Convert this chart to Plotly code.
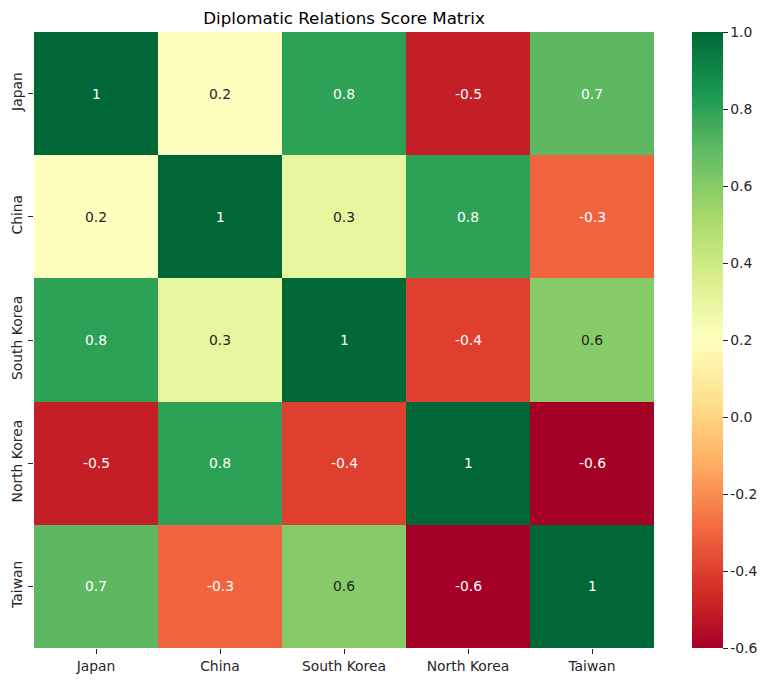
import plotly.graph_objects as go

countries = ["Japan", "China", "South Korea", "North Korea", "Taiwan"]
scores = [
    [1.0, 0.2, 0.8, -0.5, 0.7],
    [0.2, 1.0, 0.3, 0.8, -0.3],
    [0.8, 0.3, 1.0, -0.4, 0.6],
    [-0.5, 0.8, -0.4, 1.0, -0.6],
    [0.7, -0.3, 0.6, -0.6, 1.0],
]
vmin, vmax = -0.6, 1.0
cb_ticks = [-0.6, -0.4, -0.2, 0.0, 0.2, 0.4, 0.6, 0.8, 1.0]

rdylgn = ["#a50026", "#d73027", "#f46d43", "#fdae61", "#fee08b", "#ffffbf",
          "#d9ef8b", "#a6d96a", "#66bd63", "#1a9850", "#006837"]
colorscale = [[i / (len(rdylgn) - 1), c] for i, c in enumerate(rdylgn)]


def hex2rgb(h):
    h = h.lstrip("#")
    return [int(h[i:i + 2], 16) / 255 for i in (0, 2, 4)]


def cmap(v):
    t = (v - vmin) / (vmax - vmin)
    t = min(max(t, 0), 1) * (len(rdylgn) - 1)
    i = min(int(t), len(rdylgn) - 2)
    f = t - i
    a, b = hex2rgb(rdylgn[i]), hex2rgb(rdylgn[i + 1])
    return [a[k] + (b[k] - a[k]) * f for k in range(3)]


def lum(rgb):
    lin = [c / 12.92 if c <= 0.03928 else ((c + 0.055) / 1.055) ** 2.4 for c in rgb]
    return 0.2126 * lin[0] + 0.7152 * lin[1] + 0.0722 * lin[2]


# figure coordinates (page has an 8px body margin)
L, T, PW, PH = 26, 24, 620, 616
W, H = 776, 682
FS = 13.9

fig = go.Figure(go.Heatmap(
    z=scores, x=countries, y=countries,
    colorscale=colorscale, zmin=vmin, zmax=vmax,
    xgap=0, ygap=0,
    colorbar=dict(
        tickvals=cb_ticks, ticktext=[f"{t:.1f}" for t in cb_ticks],
        ticks="outside", ticklen=5, tickwidth=1, tickcolor="#262626",
        thickness=31, len=PH, lenmode="pixels",
        x=(684 - L) / PW, xref="paper", xanchor="left", xpad=0,
        y=1, yanchor="top", ypad=0,
        outlinewidth=0, tickfont=dict(size=FS, color="#262626"),
    ),
))

annotations = []
for i, row in enumerate(scores):
    for j, v in enumerate(row):
        color = "#262626" if lum(cmap(v)) > 0.408 else "white"
        annotations.append(dict(x=countries[j], y=countries[i], text=f"{v:g}", showarrow=False,
                                font=dict(size=FS, color=color)))

fig.update_layout(
    width=W, height=H,
    margin=dict(l=L, r=W - L - PW, t=T, b=H - T - PH, autoexpand=False),
    plot_bgcolor="white", paper_bgcolor="white",
    font=dict(family="DejaVu Sans", color="#262626"),
    title=dict(text="Diplomatic Relations Score Matrix", x=(L + PW / 2) / W, xanchor="center",
               y=1 - 10 / H, yanchor="middle", font=dict(size=16.7, color="black")),
    annotations=annotations,
)
fig.update_xaxes(ticks="outside", ticklen=5, tickcolor="#262626", showgrid=False,
                 tickfont=dict(size=FS, color="#262626"), zeroline=False, showline=False)
fig.update_yaxes(autorange="reversed", ticks="outside", ticklen=5, tickcolor="#262626",
                 tickangle=-90, showgrid=False, tickfont=dict(size=FS, color="#262626"),
                 zeroline=False, showline=False)

fig.write_html("out.html")
